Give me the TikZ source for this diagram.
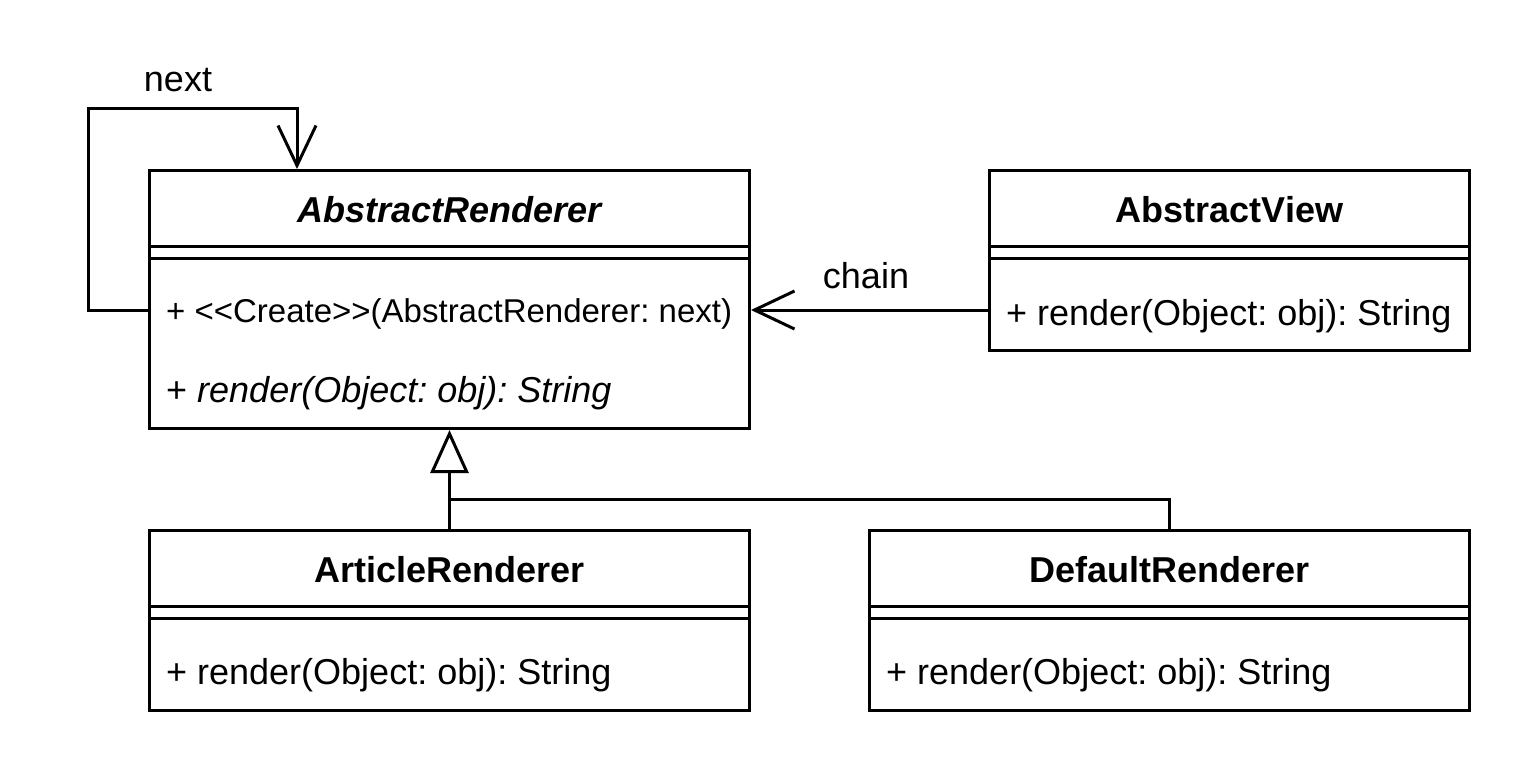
\documentclass[tikz,border=0pt]{standalone}
\usepackage{fontspec}
\setmainfont{Liberation Sans}
\usetikzlibrary{arrows.meta,calc}
\frenchspacing
\tikzset{
  classbox/.style={draw,line width=3pt,minimum width=600pt,anchor=north west,inner sep=0pt},
  classname/.style={anchor=base,inner sep=0pt,font=\fontsize{36}{43}\selectfont\bfseries},
  member/.style={anchor=base west,inner sep=0pt,font=\fontsize{36}{43}\selectfont},
  txt/.style={anchor=base,inner sep=0pt,font=\fontsize{36}{43}\selectfont},
  assoc/.style={line width=3pt,-{Straight Barb[length=40pt,width=38pt]}},
  inherit/.style={line width=3pt,-{Triangle[open,length=43pt,width=38pt]}},
}

\begin{document}
\begin{tikzpicture}[x=1pt,y=-1pt]
\useasboundingbox (0,0) rectangle (1518,768);

% classes
\node[classbox,minimum height=258pt] (ar) at (148,169) {};
\node[classbox,minimum height=180pt,minimum width=480pt] (view) at (988,169) {};
\node[classbox,minimum height=180pt] (article) at (148,529) {};
\node[classbox,minimum height=180pt] (dflt) at (868,529) {};

\foreach \c in {ar,view,article,dflt}
  \foreach \d in {77,89}
    \draw[line width=3pt] ([yshift=-\d pt]\c.north west) -- ([yshift=-\d pt]\c.north east);

\node[classname] (arname) at ([yshift=-53pt]ar.north) {\itshape AbstractRenderer};
\node[classname] (viewname) at ([yshift=-53pt]view.north) {AbstractView};
\node[classname] (articlename) at ([yshift=-53pt]article.north) {ArticleRenderer};
\node[classname] (dfltname) at ([yshift=-53pt]dflt.north) {DefaultRenderer};

\node[member,font=\fontsize{33}{40}\selectfont] (ctor) at ([xshift=18pt,yshift=-153pt]ar.north west)
  {+ <\kern0pt<Create>\kern0pt>(AbstractRenderer: next)};
\node[member] (arop) at ([xshift=18pt,yshift=-233pt]ar.north west)
  {+ \itshape render(Object: obj): String};
\node[member] (viewop) at ([xshift=18pt,yshift=-156pt]view.north west) {+ render(Object: obj): String};
\node[member] (articleop) at ([xshift=18pt,yshift=-155pt]article.north west) {+ render(Object: obj): String};
\node[member] (dfltop) at ([xshift=18pt,yshift=-155pt]dflt.north west) {+ render(Object: obj): String};

% connectors
\coordinate (chainend) at ([yshift=-141pt]ar.north east);
\draw[assoc] (view.west |- chainend) -- (chainend);
\node[txt] (chainlbl) at (866,288) {chain};

\draw[assoc] (ar.west |- chainend) -| ++(-60,-202) -| ([xshift=149pt]ar.north west);
\node[txt] (nextlbl) at (178,92) {next};

\coordinate (join) at ([yshift=30pt]article.north);
\draw[inherit] (article.north) -- (ar.south);
\draw[line width=3pt] (dflt.north) |- (join);
\end{tikzpicture}
\end{document}
